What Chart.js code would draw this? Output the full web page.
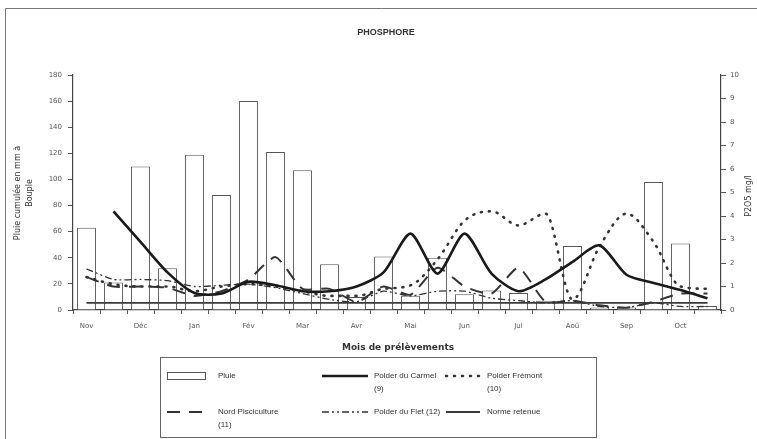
<!DOCTYPE html>
<html><head><meta charset="utf-8">
<script src="https://cdn.jsdelivr.net/npm/chart.js@4"></script>
<style>html,body{margin:0;padding:0;background:#fff}#wrap{width:757px;height:439px;position:relative}</style>
</head><body><div id="wrap"><canvas id="c"></canvas></div>
<script>
// Half-month sampling slots; month names shown on every other slot
const categories = ['Nov','','Déc','','Jan','','Fév','','Mar','','Avr','','Mai','','Jun','','Jul','','Aoû','','Sep','','Oct',''];
const leftTicks = [0,20,40,60,80,100,120,140,160,180];
const rightTicks = [0,1,2,3,4,5,6,7,8,9,10];
// Pluie cumulée (mm)
const pluie = [63,21,110,32,119,88,160,121,107,35,10,41,11,40,12,15,13,7,49,2,2,98,51,3];
// P2O5 mg/l
const carmel  = [null,4.2,2.9,1.6,0.72,0.7,1.2,1.05,0.8,0.8,1.0,1.6,3.25,1.55,3.25,1.55,0.8,1.3,2.05,2.75,1.5,1.15,0.85,0.5];
const fremont = [1.4,1.1,1.0,1.0,0.8,1.0,1.1,1.0,0.8,0.6,0.6,0.9,1.05,2.15,3.8,4.2,3.6,4.1,0.45,2.7,4.1,2.9,1.0,0.9];
const nord    = [1.4,1.0,1.0,0.95,0.6,0.8,1.3,2.25,0.9,0.9,0.35,1.0,0.65,1.8,1.0,0.7,1.8,0.35,0.4,0.2,0.1,0.35,0.7,0.7];
const fiet    = [1.75,1.3,1.3,1.25,1.0,1.05,1.1,0.95,0.7,0.45,0.35,0.8,0.6,0.8,0.8,0.5,0.4,0.3,0.4,0.15,0.1,0.3,0.15,0.15];
const norme   = [0.3,0.3,0.3,0.3,0.3,0.3,0.3,0.3,0.3,0.3,0.3,0.3,0.3,0.3,0.3,0.3,0.3,0.3,0.3,0.3,0.3,0.3,0.3,0.3];

const FONT = 'DejaVu Sans';
const LFONT = 'Liberation Sans';
const INK = '#333';

const decor = {
  id: 'decor',
  beforeDraw(chart) {
    const c = chart.ctx;
    c.save();
    c.fillStyle = '#fff';
    c.fillRect(0, 0, chart.width, chart.height);
    c.strokeStyle = '#777';
    c.lineWidth = 1;
    c.beginPath();
    c.moveTo(5.5, 439); c.lineTo(5.5, 8.5); c.lineTo(757, 8.5);
    c.stroke();
    c.restore();
  },
  afterDraw(chart) {
    const c = chart.ctx;
    c.save();
    c.fillStyle = INK;
    c.textAlign = 'center';
    c.textBaseline = 'middle';
    c.font = 'bold 9px ' + LFONT;
    c.fillText('PHOSPHORE', 386, 33);
    c.font = 'bold 9px ' + FONT;
    c.fillText('Mois de prélèvements', 398, 348);
    // left axis title
    c.font = '8px ' + FONT;
    c.save();
    c.translate(18, 193);
    c.rotate(-Math.PI / 2);
    c.fillText('Pluie cumulée en mm à', 0, 0);
    c.fillText('Bouple', 0, 12);
    c.restore();
    // right axis title
    c.save();
    c.translate(749, 196);
    c.rotate(-Math.PI / 2);
    c.fillText('P2O5 mg/l', 0, 0);
    c.restore();
    // legend box
    c.strokeStyle = '#666';
    c.lineWidth = 1;
    c.strokeRect(160.5, 357.5, 436, 80);
    const ds = chart.data.datasets;
    const cols = [{sx:167, sw:38, tx:218}, {sx:322, sw:46, tx:374}, {sx:446, sw:34, tx:487}];
    const rows = [376, 412];
    ds.forEach((d, k) => {
      const col = cols[k % 3], y = rows[Math.floor(k / 3)];
      c.save();
      if (d.type === 'bar') {
        c.fillStyle = '#fff';
        c.strokeStyle = d.borderColor;
        c.lineWidth = 1;
        c.fillRect(col.sx, y - 4, col.sw, 7);
        c.strokeRect(col.sx + 0.5, y - 3.5, col.sw, 7);
      } else {
        c.strokeStyle = d.borderColor;
        c.lineWidth = d.borderWidth;
        c.lineCap = d.borderCapStyle || 'butt';
        c.setLineDash(d.borderDash || []);
        c.beginPath();
        c.moveTo(col.sx, y); c.lineTo(col.sx + col.sw, y);
        c.stroke();
      }
      c.restore();
      c.fillStyle = INK;
      c.textAlign = 'left';
      c.font = '8px ' + LFONT;
      d.label.split('\n').forEach((ln, i) => c.fillText(ln, col.tx, y + i * 13));
    });
    c.restore();
  }
};

new Chart(document.getElementById('c'), {
  data: {
    labels: categories,
    datasets: [
      { type: 'bar', label: 'Pluie', data: pluie, yAxisID: 'y', backgroundColor: '#fff', borderColor: '#555', borderWidth: 1, categoryPercentage: 1, barPercentage: 0.7, order: 10 },
      { type: 'line', label: 'Polder du Carmel\n(9)', data: carmel, yAxisID: 'y2', borderColor: '#1a1a1a', borderWidth: 2.6, tension: 0.25, pointRadius: 0, spanGaps: true, order: 1 },
      { type: 'line', label: 'Polder Frémont\n(10)', data: fremont, yAxisID: 'y2', borderColor: '#333', borderWidth: 2.6, borderDash: [1, 7], borderCapStyle: 'round', cubicInterpolationMode: 'monotone', pointRadius: 0, order: 2 },
      { type: 'line', label: 'Nord Pisciculture\n(11)', data: nord, yAxisID: 'y2', borderColor: '#333', borderWidth: 2, borderDash: [13, 9], tension: 0.2, pointRadius: 0, order: 3 },
      { type: 'line', label: 'Polder du Fiet (12)', data: fiet, yAxisID: 'y2', borderColor: '#333', borderWidth: 1.3, borderDash: [7, 3, 2, 3, 2, 3], tension: 0.2, pointRadius: 0, order: 4 },
      { type: 'line', label: 'Norme retenue', data: norme, yAxisID: 'y2', borderColor: '#3a3a3a', borderWidth: 1.8, tension: 0, pointRadius: 0, order: 5 }
    ]
  },
  options: {
    responsive: true,
    maintainAspectRatio: false,
    animation: false,
    layout: { padding: { top: 75, left: 0, right: 0, bottom: 0 } },
    plugins: { legend: { display: false }, title: { display: false }, tooltip: { enabled: false } },
    scales: {
      x: {
        type: 'category', offset: true,
        grid: { offset: true, drawOnChartArea: false, tickLength: 4, color: '#555' },
        border: { color: '#444', width: 1.2 },
        ticks: { autoSkip: false, maxRotation: 0, minRotation: 0, padding: 8, color: '#555', font: { family: FONT, size: 7 } },
        afterFit(s) { s.height = 129; }
      },
      y: {
        position: 'left', min: 0, max: 180,
        afterBuildTicks(s) { s.ticks = leftTicks.map(v => ({ value: v })); },
        grid: { drawOnChartArea: false, tickLength: 5, color: '#555' },
        border: { color: '#444', width: 1.2 },
        ticks: { padding: 6, color: '#555', font: { family: FONT, size: 7 } },
        afterFit(s) { s.width = 73; }
      },
      y2: {
        position: 'right', min: 0, max: 10,
        afterBuildTicks(s) { s.ticks = rightTicks.map(v => ({ value: v })); },
        grid: { drawOnChartArea: false, tickLength: 5, color: '#555' },
        border: { color: '#444', width: 1.2 },
        ticks: { padding: 4, color: '#555', font: { family: FONT, size: 7 } },
        afterFit(s) { s.width = 36; }
      }
    }
  },
  plugins: [decor]
});
</script>
</body></html>
